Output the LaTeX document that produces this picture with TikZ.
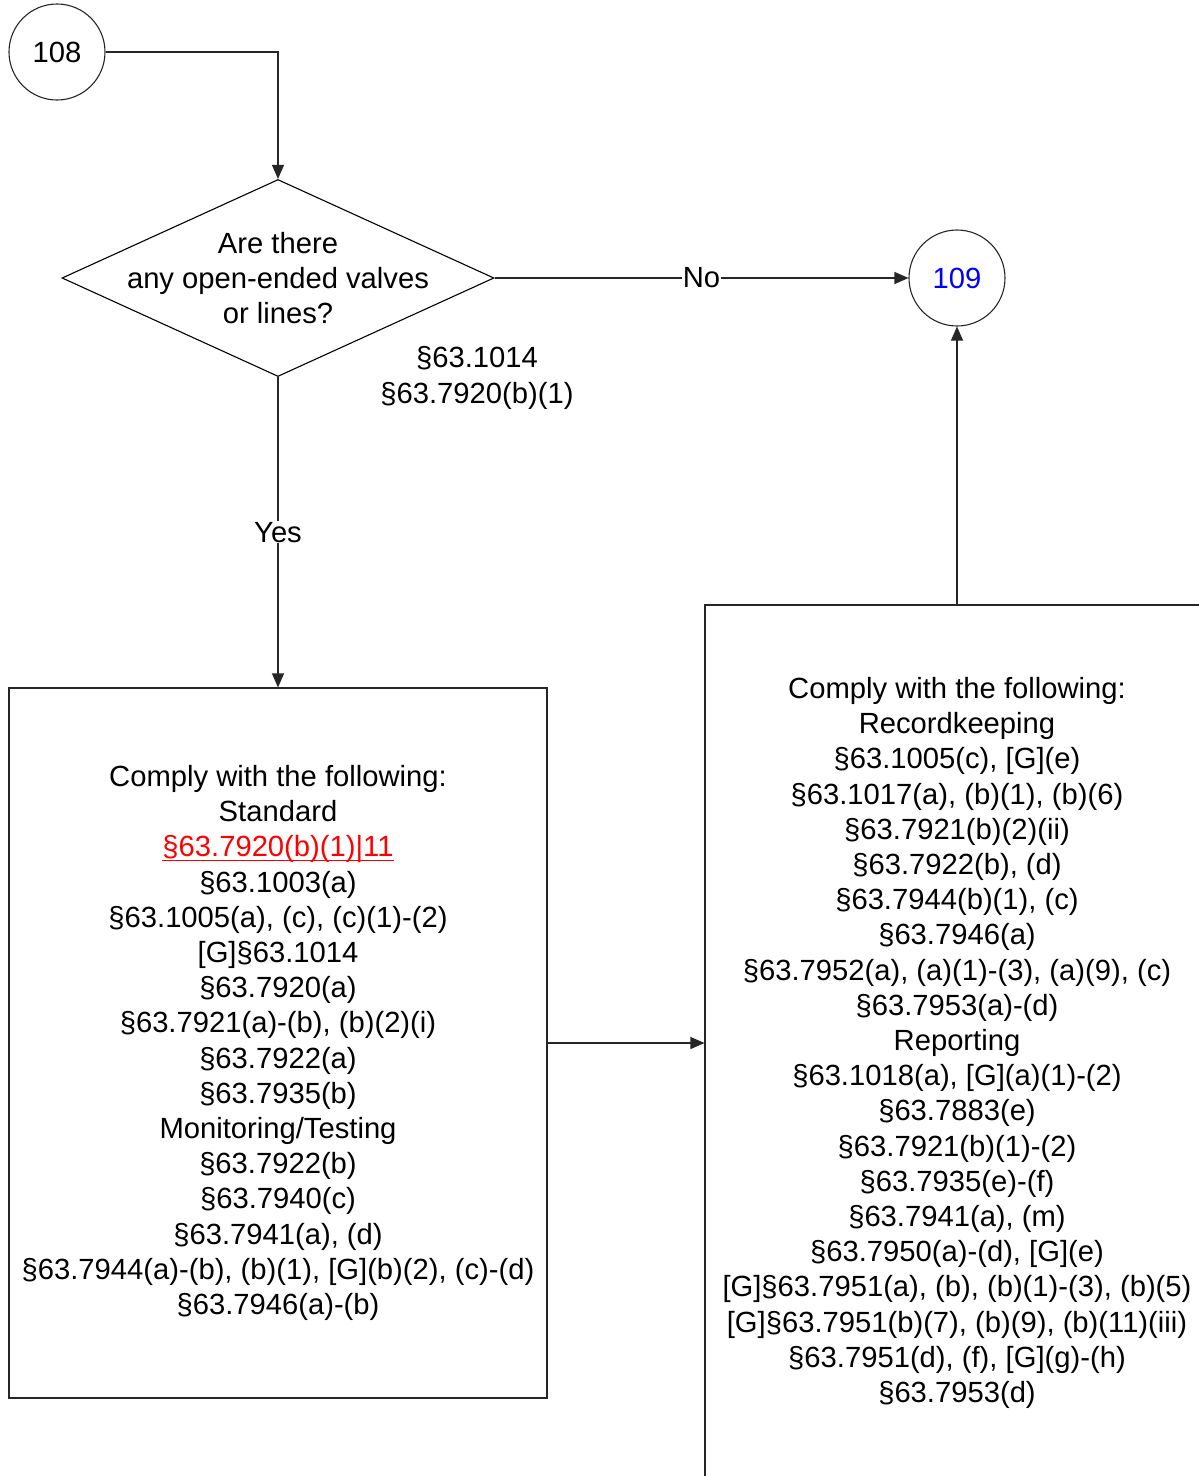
\documentclass[tikz,border=0pt]{standalone}
\usepackage{fontspec}
\setmainfont{Liberation Sans}
\usetikzlibrary{shapes.geometric,arrows.meta}
\definecolor{linecol}{gray}{0.15}
\definecolor{refred}{RGB}{255,0,0}
\definecolor{refblue}{RGB}{0,0,255}
\newcommand{\redlink}[1]{{\color{refred}\setbox0\hbox{#1}\rlap{\rule[-4.5pt]{\wd0}{1.8pt}}\box0}}
\tikzset{
  txt/.style={font=\fontsize{29.2}{35.2}\selectfont,align=center,inner sep=0pt},
  conn/.style={draw=linecol,line width=1.1pt,-{Triangle[length=14pt,width=12pt]}},
  stepref/.style={draw=linecol,line width=1.1pt,circle,minimum size=96pt,inner sep=0pt,txt},
  decision/.style={draw=black,line width=1.1pt,diamond,minimum width=432pt,minimum height=197pt,inner sep=0pt},
  listbox/.style={draw=linecol,line width=1.1pt,rectangle,inner sep=0pt,txt},
  edgelab/.style={txt,fill=white,inner sep=1pt},
}

\begin{document}
\begin{tikzpicture}[x=1pt,y=-1pt]
  \useasboundingbox (0,0) rectangle (1199,1476);
  \node[stepref] (c108) at (57,52) {108};
  \node[stepref,text=refblue] (c109) at (957,278) {109};
  \node[decision] (q) at (278,278) {};
  \node[txt] (qtext) at (278,278) {Are there\\any open-ended valves\\or lines?};
  \node[txt] (qcite) at (477,378) {§63.1014\\§63.7920(b)(1)};
  \node[listbox,minimum width=538pt,minimum height=710pt] (stdbox) at (278,1043)
    {Comply with the following:\\Standard\\\redlink{§63.7920(b)(1)|11}\\§63.1003(a)\\§63.1005(a), (c), (c)(1)-(2)\\{[G]}§63.1014\\§63.7920(a)\\§63.7921(a)-(b), (b)(2)(i)\\§63.7922(a)\\§63.7935(b)\\Monitoring/Testing\\§63.7922(b)\\§63.7940(c)\\§63.7941(a), (d)\\§63.7944(a)-(b), (b)(1), [G](b)(2), (c)-(d)\\§63.7946(a)-(b)};
  \node[listbox,minimum width=504pt,minimum height=876pt] (rkbox) at (957,1043)
    {Comply with the following:\\Recordkeeping\\§63.1005(c), [G](e)\\§63.1017(a), (b)(1), (b)(6)\\§63.7921(b)(2)(ii)\\§63.7922(b), (d)\\§63.7944(b)(1), (c)\\§63.7946(a)\\§63.7952(a), (a)(1)-(3), (a)(9), (c)\\§63.7953(a)-(d)\\Reporting\\§63.1018(a), [G](a)(1)-(2)\\§63.7883(e)\\§63.7921(b)(1)-(2)\\§63.7935(e)-(f)\\§63.7941(a), (m)\\§63.7950(a)-(d), [G](e)\\{[G]}§63.7951(a), (b), (b)(1)-(3), (b)(5)\\{[G]}§63.7951(b)(7), (b)(9), (b)(11)(iii)\\§63.7951(d), (f), [G](g)-(h)\\§63.7953(d)};
  % connectors
  \draw[conn] (c108.east) -| (q.north);
  \draw[conn] (q.east) -- node[edgelab] (nolab) {No} (c109.west);
  \draw[conn] (q.south) -- node[edgelab] (yeslab) {Yes} (stdbox.north);
  \draw[conn] (stdbox.east) -- (rkbox.west);
  \draw[conn] (rkbox.north) -- (c109.south);
\end{tikzpicture}
\end{document}
